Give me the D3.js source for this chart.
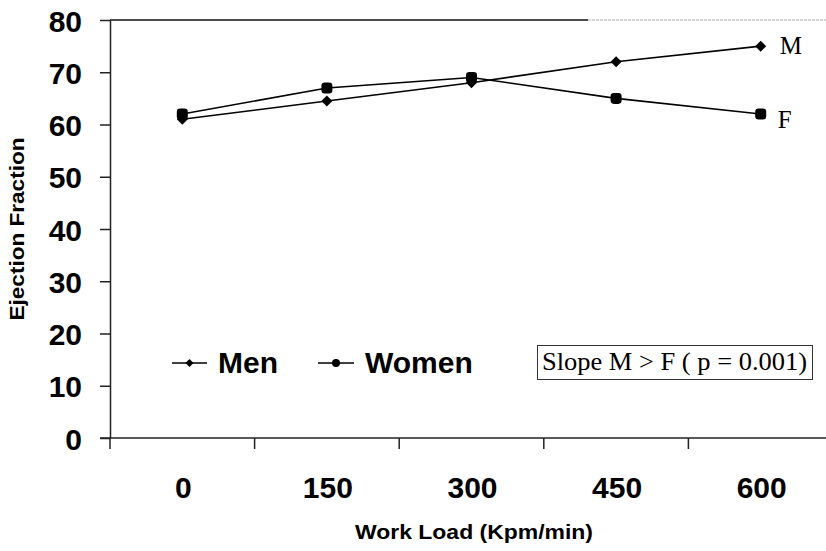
<!DOCTYPE html>
<html>
<head>
<meta charset="utf-8">
<script src="https://cdn.jsdelivr.net/npm/d3@7"></script>
<style>
  html, body { margin: 0; padding: 0; background: #fff; }
  svg { display: block; }
</style>
</head>
<body>
<script>
// Ejection fraction by work load, men vs women
const workLoads = ["0", "150", "300", "450", "600"];
const menEF = [61, 64.5, 68, 72, 75];
const womenEF = [62, 67, 69, 65, 62];
const yTicks = [0, 10, 20, 30, 40, 50, 60, 70, 80];
const seriesNames = ["Men", "Women"];
const endLabels = ["M", "F"];
const noteText = "Slope M > F ( p = 0.001)";

const W = 826, H = 551;
const plotLeft = 110, plotTop = 20, plotBottom = 438, plotRight = 833;

const svg = d3.select("body").append("svg")
  .attr("width", W).attr("height", H);

const x = d3.scaleBand().domain(workLoads).range([plotLeft, plotRight]).padding(0);
const y = d3.scaleLinear().domain([0, 80]).range([plotBottom, plotTop]);
const cx = d => x(d) + x.bandwidth() / 2;

const sans = "'Liberation Sans', Arial, Helvetica, sans-serif";
const serif = "'Liberation Serif', 'Times New Roman', Times, serif";

// top frame line: solid on the left, faint on the right
svg.append("line")
  .attr("x1", plotLeft).attr("x2", 588).attr("y1", y(80)).attr("y2", y(80))
  .attr("stroke", "#111").attr("stroke-width", 1.5);
svg.append("line")
  .attr("x1", 588).attr("x2", W).attr("y1", y(80)).attr("y2", y(80))
  .attr("stroke", "#aaa").attr("stroke-width", 1.2)
  .attr("stroke-dasharray", "3,1");

// y axis
const yAxis = svg.append("g")
  .attr("transform", `translate(${plotLeft},0)`)
  .call(d3.axisLeft(y).tickValues(yTicks).tickSize(10).tickSizeOuter(0).tickPadding(18));
yAxis.select(".domain").attr("stroke", "#222").attr("stroke-width", 1.5);
yAxis.selectAll(".tick line").attr("stroke", "#222").attr("stroke-width", 1.5);
yAxis.selectAll(".tick text")
  .attr("font-family", sans).attr("font-weight", "bold").attr("font-size", 30)
  .attr("fill", "#000").attr("dy", "0.37em");

// x axis: baseline and category boundary ticks
svg.append("line")
  .attr("x1", plotLeft - 10).attr("x2", W).attr("y1", y(0)).attr("y2", y(0))
  .attr("stroke", "#222").attr("stroke-width", 1.5);
svg.selectAll(".xtick").data(workLoads).enter().append("line")
  .attr("class", "xtick")
  .attr("x1", d => x(d)).attr("x2", d => x(d))
  .attr("y1", y(0)).attr("y2", y(0) + 11)
  .attr("stroke", "#222").attr("stroke-width", 1.5);
svg.selectAll(".xlabel").data(workLoads).enter().append("text")
  .attr("class", "xlabel")
  .attr("x", d => cx(d) + 1).attr("y", 498)
  .attr("text-anchor", "middle")
  .attr("font-family", sans).attr("font-weight", "bold").attr("font-size", 30)
  .text(d => d);

// axis titles
svg.append("text")
  .attr("x", 474).attr("y", 539)
  .attr("text-anchor", "middle")
  .attr("font-family", sans).attr("font-weight", "bold").attr("font-size", 20)
  .attr("textLength", 238).attr("lengthAdjust", "spacingAndGlyphs")
  .text("Work Load (Kpm/min)");
svg.append("text")
  .attr("transform", "translate(24,229) rotate(-90)")
  .attr("text-anchor", "middle")
  .attr("font-family", sans).attr("font-weight", "bold").attr("font-size", 20)
  .attr("textLength", 183).attr("lengthAdjust", "spacingAndGlyphs")
  .text("Ejection Fraction");

// series lines
const series = [menEF, womenEF];
const line = d3.line().x((d, i) => cx(workLoads[i])).y(d => y(d));
series.forEach(vals => {
  svg.append("path")
    .datum(vals)
    .attr("d", line)
    .attr("fill", "none")
    .attr("stroke", "#000").attr("stroke-width", 1.6);
});

// markers
function diamond(g, px, py, r) {
  g.append("path")
    .attr("d", `M${px},${py - r}L${px + r},${py}L${px},${py + r}L${px - r},${py}Z`)
    .attr("fill", "#000");
}
function blob(g, px, py, s) {
  g.append("rect")
    .attr("x", px - s / 2).attr("y", py - s / 2)
    .attr("width", s).attr("height", s)
    .attr("rx", s * 0.3)
    .attr("fill", "#000");
}
menEF.forEach((v, i) => diamond(svg, cx(workLoads[i]), y(v), 5.5));
womenEF.forEach((v, i) => blob(svg, cx(workLoads[i]), y(v), 11));

// end-of-line labels
const lastIdx = workLoads.length - 1;
svg.append("text")
  .attr("x", cx(workLoads[lastIdx]) + 19).attr("y", y(menEF[lastIdx]) + 8)
  .attr("font-family", serif).attr("font-size", 25)
  .text(endLabels[0]);
svg.append("text")
  .attr("x", cx(workLoads[lastIdx]) + 17).attr("y", y(womenEF[lastIdx]) + 14)
  .attr("font-family", serif).attr("font-size", 25)
  .text(endLabels[1]);

// legend
const legY = 363;
const leg = svg.append("g");
[[172, 207, 218], [318, 354, 365]].forEach((p, i) => {
  leg.append("line")
    .attr("x1", p[0]).attr("x2", p[1]).attr("y1", legY).attr("y2", legY)
    .attr("stroke", "#000").attr("stroke-width", 1.6);
  const mx = (p[0] + p[1]) / 2;
  if (i === 0) diamond(leg, mx, legY, 4);
  else leg.append("circle").attr("cx", mx).attr("cy", legY).attr("r", 4).attr("fill", "#000");
  leg.append("text")
    .attr("x", p[2]).attr("y", 373)
    .attr("font-family", sans).attr("font-weight", "bold").attr("font-size", 30)
    .text(seriesNames[i]);
});

// annotation box
svg.append("rect")
  .attr("x", 537.5).attr("y", 345.5).attr("width", 275).attr("height", 34)
  .attr("fill", "#fff").attr("stroke", "#333").attr("stroke-width", 1);
svg.append("text")
  .attr("x", 542).attr("y", 370)
  .attr("font-family", serif).attr("font-size", 25)
  .attr("textLength", 265).attr("lengthAdjust", "spacingAndGlyphs")
  .text(noteText);
</script>
</body>
</html>
